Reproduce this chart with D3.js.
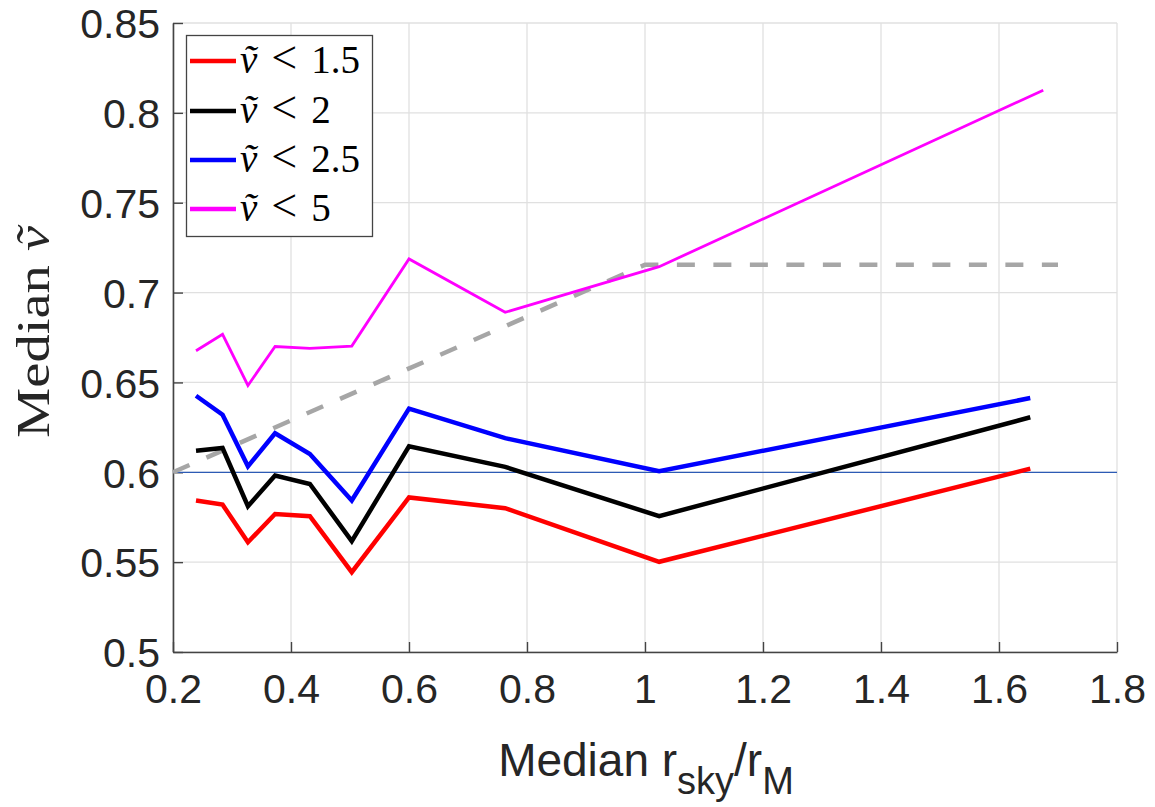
<!DOCTYPE html>
<html>
<head>
<meta charset="utf-8">
<script src="https://cdn.jsdelivr.net/npm/d3@7"></script>
<style>
  html, body { margin: 0; padding: 0; background: #fff; }
  svg { display: block; }
</style>
</head>
<body>
<svg id="chart" width="1155" height="807"></svg>
<script>
// ---- data ----
const xValues = [0.239, 0.284, 0.327, 0.373, 0.432, 0.503, 0.600, 0.763, 1.024, 1.653];
const xValuesMagenta = [0.239, 0.284, 0.327, 0.373, 0.432, 0.503, 0.600, 0.763, 1.024, 1.675];
const redValues     = [0.5843, 0.5820, 0.5611, 0.5768, 0.5756, 0.5444, 0.5860, 0.5800, 0.5502, 0.6020];
const blackValues   = [0.6120, 0.6135, 0.5811, 0.5982, 0.5935, 0.5617, 0.6144, 0.6030, 0.5756, 0.6306];
const blueValues    = [0.6426, 0.6320, 0.6033, 0.6217, 0.6102, 0.5843, 0.6354, 0.6190, 0.6006, 0.6413];
const magentaValues = [0.6676, 0.6768, 0.6483, 0.6700, 0.6690, 0.6702, 0.7187, 0.6890, 0.7144, 0.8126];
const dashedX = [0.2, 1.0, 1.7];
const dashedY = [0.6, 0.7155, 0.7155];
const refLineY = 0.6;
const legendLabels = ["1.5", "2", "2.5", "5"];
const xTicks = [0.2, 0.4, 0.6, 0.8, 1, 1.2, 1.4, 1.6, 1.8];
const yTicks = [0.5, 0.55, 0.6, 0.65, 0.7, 0.75, 0.8, 0.85];

// ---- layout ----
const svg = d3.select("#chart");
const L = 173, T = 23, R = 1117, B = 652;
const x = d3.scaleLinear().domain([0.2, 1.8]).range([L, R]);
const y = d3.scaleLinear().domain([0.5, 0.85]).range([B, T]);
const tickFont = "'Liberation Sans', Arial, sans-serif";
const serif = "'Liberation Serif', 'DejaVu Serif', serif";

// grid
const grid = svg.append("g");
grid.selectAll("line.gx").data(xTicks).join("line")
  .attr("x1", d => x(d)).attr("x2", d => x(d)).attr("y1", T).attr("y2", B)
  .attr("stroke", "#e0e0e0").attr("stroke-width", 1.3);
grid.selectAll("line.gy").data(yTicks).join("line")
  .attr("x1", L).attr("x2", R).attr("y1", d => y(d)).attr("y2", d => y(d))
  .attr("stroke", "#e0e0e0").attr("stroke-width", 1.3);

// axes
const xAxis = d3.axisBottom(x).tickValues(xTicks).tickSizeInner(-10).tickSizeOuter(0)
  .tickPadding(22).tickFormat(d3.format("~g"));
const yAxis = d3.axisLeft(y).tickValues(yTicks).tickSizeInner(-10).tickSizeOuter(0)
  .tickPadding(13).tickFormat(d3.format("~g"));

const gx = svg.append("g").attr("transform", `translate(0,${B})`).call(xAxis);
const gy = svg.append("g").attr("transform", `translate(${L},0)`).call(yAxis);
[gx, gy].forEach(g => {
  g.select(".domain").attr("stroke", "#444").attr("stroke-width", 1.6);
  g.selectAll(".tick line").attr("stroke", "#444").attr("stroke-width", 1.4);
  g.selectAll(".tick text").attr("fill", "#262626").attr("font-family", tickFont)
    .attr("font-size", 41);
});
gx.selectAll(".tick text").attr("dy", "0.71em");
gy.selectAll(".tick text").attr("dy", "0.36em");

// reference line
svg.append("line")
  .attr("x1", x(0.2)).attr("x2", x(1.8)).attr("y1", y(refLineY)).attr("y2", y(refLineY))
  .attr("stroke", "#2d5bb5").attr("stroke-width", 1.2);

// dashed gray line
const line = d3.line().x(d => x(d[0])).y(d => y(d[1]));
svg.append("path")
  .datum(d3.zip(dashedX, dashedY))
  .attr("d", line).attr("fill", "none")
  .attr("stroke", "#a6a6a6").attr("stroke-width", 4.5)
  .attr("stroke-dasharray", "18,18.5");

// series
const series = [
  { xs: xValues, ys: redValues, color: "#ff0000", w: 4.5 },
  { xs: xValues, ys: blackValues, color: "#000000", w: 4.5 },
  { xs: xValues, ys: blueValues, color: "#0000ff", w: 4.5 },
  { xs: xValuesMagenta, ys: magentaValues, color: "#ff00ff", w: 2.8 }
];
series.forEach(s => {
  svg.append("path")
    .datum(d3.zip(s.xs, s.ys))
    .attr("d", line).attr("fill", "none")
    .attr("stroke", s.color).attr("stroke-width", s.w)
    .attr("stroke-linejoin", "miter");
});

// legend
const lg = svg.append("g");
lg.append("rect").attr("x", 186.5).attr("y", 35.5).attr("width", 186).attr("height", 201)
  .attr("fill", "#fff").attr("stroke", "#444").attr("stroke-width", 1.3);
const rowsY = [61, 111, 160, 209];
legendLabels.forEach((lab, i) => {
  lg.append("line").attr("x1", 190).attr("x2", 236).attr("y1", rowsY[i]).attr("y2", rowsY[i])
    .attr("stroke", series[i].color).attr("stroke-width", 4.5);
  const t = lg.append("text").attr("x", 240).attr("y", rowsY[i] + 12)
    .attr("font-family", serif).attr("font-size", 39).attr("fill", "#000");
  t.append("tspan").attr("font-style", "italic").text("ṽ");
  t.append("tspan").attr("dx", 14).attr("font-size", 46).text("<");
  t.append("tspan").attr("dx", 14).text(lab);
});

// y label
const yl = svg.append("text")
  .attr("transform", "translate(49,332) rotate(-90)")
  .attr("text-anchor", "middle")
  .attr("font-family", serif).attr("font-size", 46).attr("fill", "#262626")
  .attr("textLength", 212).attr("lengthAdjust", "spacingAndGlyphs");
yl.append("tspan").text("Median ");
yl.append("tspan").attr("font-style", "italic").text("ṽ");

// x label
const xl = svg.append("text")
  .attr("x", 646).attr("y", 776)
  .attr("text-anchor", "middle")
  .attr("font-family", tickFont).attr("font-size", 46).attr("fill", "#262626");
xl.append("tspan").text("Median r");
xl.append("tspan").attr("font-size", 38).attr("dy", 18).text("sky");
xl.append("tspan").attr("dy", -18).text("/r");
xl.append("tspan").attr("font-size", 38).attr("dy", 18).text("M");
</script>
</body>
</html>
